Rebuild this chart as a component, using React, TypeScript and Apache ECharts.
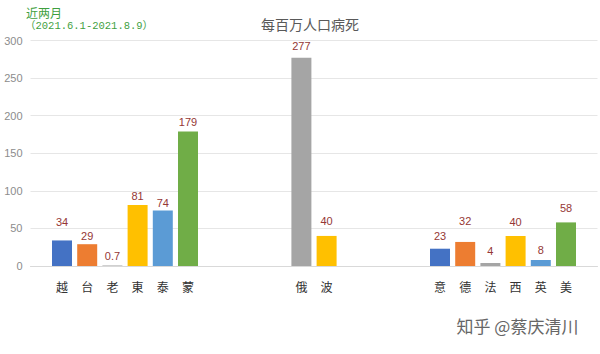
import React, { useEffect, useRef } from "react";
import * as echarts from "echarts";

// Data
const countries = ["越", "台", "老", "東", "泰", "蒙", "俄", "波", "意", "德", "法", "西", "英", "美"];
const values = [34, 29, 0.7, 81, 74, 179, 277, 40, 23, 32, 4, 40, 8, 58];
// half-band slot where each country sits (the source chart has empty categories between groups)
const slots = [2, 4, 6, 8, 10, 12, 21, 23, 32, 34, 36, 38, 40, 42];
const slotCount = 45;
const yTicks = [0, 50, 100, 150, 200, 250, 300];

// styling
const palette = ["#4472C4", "#ED7D31", "#A5A5A5", "#FFC000", "#5B9BD5", "#70AD47"];
const colorIndex = [0, 1, 2, 3, 4, 5, 2, 3, 0, 1, 2, 3, 4, 5];
const labelLift = [13, 3, 4, 4, 2, 4, 6, 9, 7, 15, 6, 8, 4, 9];

const title = "每百万人口病死";
const noteLine1 = "近两月";
const noteLine2 = "（2021.6.1-2021.8.9）";
const watermark = "知乎 @蔡庆清川";

export default function App() {
  const ref = useRef<HTMLDivElement>(null);
  useEffect(() => {
    if (!ref.current) return;
    const chart = echarts.init(ref.current, undefined, { renderer: "svg" });
    const cats: string[] = [];
    const data: any[] = [];
    for (let i = 0; i < slotCount; i++) {
      cats.push("");
      data.push(null);
    }
    slots.forEach((s, i) => {
      cats[s] = countries[i];
      data[s] = {
        value: values[i],
        itemStyle: { color: palette[colorIndex[i]] },
        label: { distance: labelLift[i] },
      };
    });
    const font = "'Noto Sans CJK SC', 'Noto Sans', sans-serif";
    const mono = "'Liberation Mono', 'DejaVu Sans Mono', 'Noto Sans CJK SC', monospace";
    chart.setOption({
      animation: false,
      backgroundColor: "#ffffff",
      textStyle: { fontFamily: font },
      title: {
        text: title,
        left: 305,
        top: 12,
        textAlign: "center",
        textStyle: { fontSize: 14, fontWeight: "normal", color: "#595959", fontFamily: font },
      },
      graphic: [
        {
          type: "text",
          left: 26,
          top: 6,
          style: { text: noteLine1, fill: "#3f9f3f", font: `12px ${font}` },
        },
        {
          type: "text",
          left: 25,
          top: 21,
          style: { text: noteLine2, fill: "#3f9f3f", font: `10.5px ${mono}` },
        },
        {
          type: "text",
          left: 456,
          top: 316,
          style: {
            text: watermark,
            fill: "#666666",
            font: `17px ${font}`,
            stroke: "#ffffff",
            lineWidth: 1,
          },
        },
      ],
      grid: { left: 30.5, right: 2.5, top: 40.5, bottom: 88, containLabel: false },
      xAxis: {
        type: "category",
        data: cats,
        boundaryGap: true,
        axisLine: { show: true, lineStyle: { color: "#d9d9d9" } },
        axisTick: { show: false },
        axisLabel: { interval: 0, margin: 14, fontSize: 12, color: "#333333", fontFamily: font },
      },
      yAxis: {
        type: "value",
        min: yTicks[0],
        max: yTicks[yTicks.length - 1],
        interval: 50,
        axisLine: { show: false },
        axisTick: { show: false },
        axisLabel: { margin: 8, fontSize: 11, color: "#8c8c8c", fontFamily: "'Liberation Sans', Arial, sans-serif" },
        splitLine: { lineStyle: { color: "#e6e6e6", width: 1 } },
      },
      series: [
        {
          type: "bar",
          data,
          barWidth: 20,
          label: {
            show: true,
            position: "top",
            fontSize: 11,
            color: "#953735",
            fontFamily: "'Liberation Sans', Arial, sans-serif",
          },
        },
      ],
    });
    return () => chart.dispose();
  }, []);
  return <div ref={ref} style={{ width: 600, height: 354, position: "absolute", left: 0, top: 0 }} />;
}
